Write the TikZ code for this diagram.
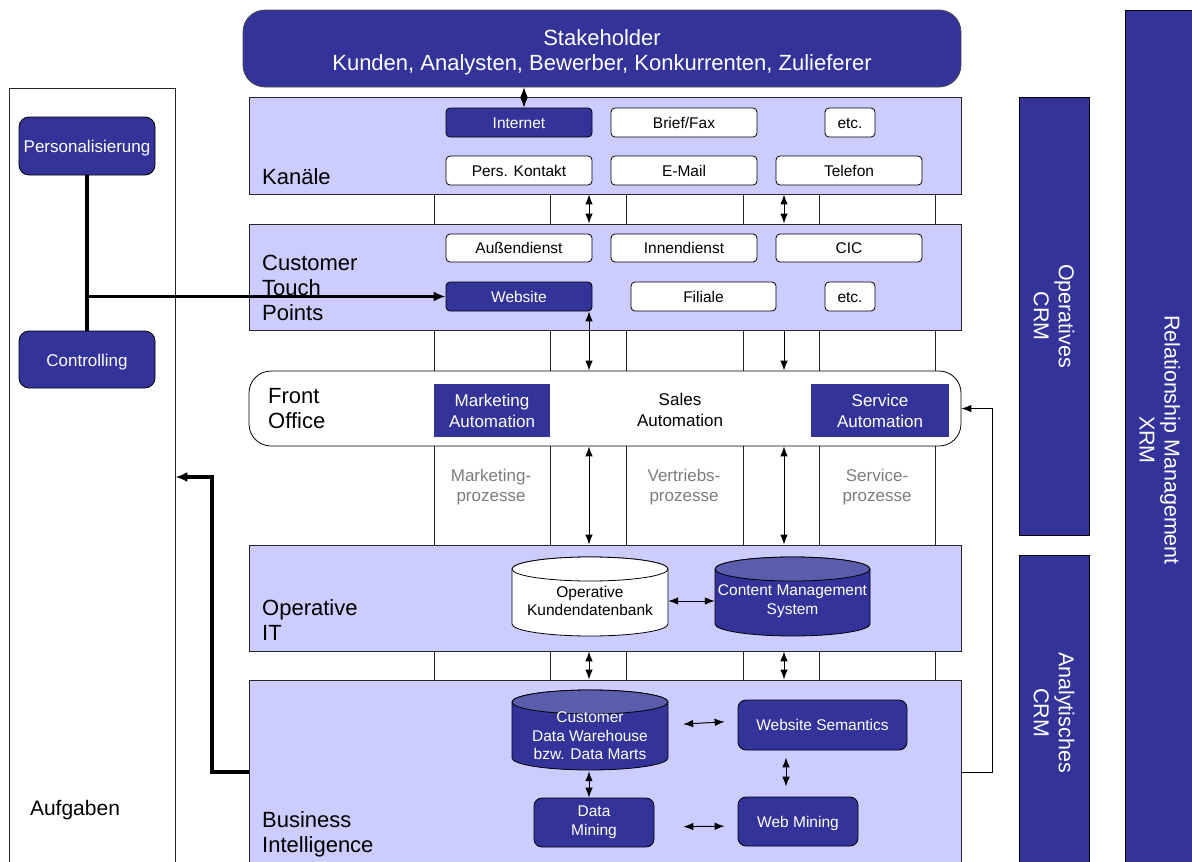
\documentclass[tikz,border=0pt]{standalone}
\usepackage{fontspec}
\setmainfont{Liberation Sans}
\usetikzlibrary{arrows.meta}
\definecolor{dblue}{RGB}{51,51,153}
\definecolor{lblue}{RGB}{204,204,255}
\definecolor{tblue}{RGB}{92,92,172}
\definecolor{pgray}{RGB}{125,125,125}
\newcommand\fs[2]{\fontsize{#1}{#2}\selectfont}
\tikzset{
  band/.style={draw=black!85, fill=lblue, line width=0.8pt, inner sep=0pt},
  wbox/.style={draw=black, fill=white, rounded corners=4pt, line width=0.8pt, inner sep=0pt, font=\fs{15.5}{18}, text height=11.8pt, text depth=0pt},
  dbox/.style={wbox, fill=dblue, text=white},
  sqbox/.style={fill=dblue, text=white, inner sep=0pt, font=\fs{17}{21}, align=center},
  lbl/.style={anchor=west, align=left, font=\fs{22}{25}, inner sep=0pt},
  proc/.style={text=pgray, align=center, font=\fs{17}{20}, inner sep=0pt},
  cyltext/.style={align=center, font=\fs{15.5}{18.5}, inner sep=0pt},
  lbox/.style={draw=black, fill=dblue, text=white, rounded corners=10pt, minimum width=136pt, inner sep=0pt, font=\fs{17}{20}, line width=0.8pt, text height=13pt, text depth=0pt},
  bar/.style={draw=black, fill=dblue, text=white, rotate=-90, align=center, font=\fs{21.5}{25}, line width=0.6pt, inner sep=0pt},
  arr/.style={{Latex[length=10pt,width=7.5pt]}-{Latex[length=10pt,width=7.5pt]}, line width=1pt},
  sarr/.style={-{Latex[length=10pt,width=7.5pt]}, line width=1pt},
  thk/.style={line width=3.2pt},
  thkarr/.style={line width=3.2pt, -{Latex[length=12pt,width=10pt]}},
  grid/.style={line width=0.8pt, draw=black!85},
}
\begin{document}
\begin{tikzpicture}[x=1pt,y=-1pt]
\clip (0,0) rectangle (1192,862);
\fill[white] (0,0) rectangle (1192,862);

% helper coordinates
\coordinate (c524) at (524,0);
\coordinate (c589) at (589,0);
\coordinate (c784) at (784,0);
\coordinate (c786) at (786,0);
\coordinate (c477) at (0,477);
\coordinate (c772) at (0,772);
\coordinate (bl) at (212,772);
\coordinate (br) at (992,772);

% vertical grid lines
\foreach \gx in {434,550,626,743,819,935}
  \draw[grid] (\gx,194) -- (\gx,680);

% left panel
\node[draw=black!85, line width=0.8pt, minimum width=166pt, minimum height=782pt, inner sep=0pt] (panel) at (92,479) {};
\node[font=\fs{21}{25}, inner sep=0pt] (aufg) at (75,810) {Aufgaben};
\node[lbox, minimum height=58pt] (pers) at (87,146) {Personalisierung};
\node[lbox, minimum height=57pt] (ctrl) at (87,359.5) {Controlling};

% Stakeholder
\draw[draw=black!70, fill=dblue, rounded corners=22pt, line width=0.8pt] (243,10) rectangle (961,87);
\node[text=white, minimum width=718pt, minimum height=69pt, inner sep=0pt, align=center, font=\fs{22}{25}] (stake) at (602,52.5) {Stakeholder\\Kunden, Analysten, Bewerber, Konkurrenten, Zulieferer};

% Kanaele band
\node[band, minimum width=712pt, minimum height=97pt] (kan) at (605,145.5) {};
\node[lbl] (kanl) at (262,177) {Kanäle};
\node[dbox, minimum width=146pt, minimum height=29pt] (internet) at (519,122.5) {Internet};
\node[wbox, minimum width=146pt, minimum height=29pt] (brief) at (684,122.5) {Brief/Fax};
\node[wbox, minimum width=50pt, minimum height=29pt] (etca) at (850,122.5) {etc.};
\node[wbox, minimum width=146pt, minimum height=29pt] (pkont) at (519,170.5) {Pers. Kontakt};
\node[wbox, minimum width=146pt, minimum height=29pt] (email) at (684,170.5) {E-Mail};
\node[wbox, minimum width=146pt, minimum height=29pt] (tel) at (849,170.5) {Telefon};

% Customer Touch Points band
\node[band, minimum width=712pt, minimum height=106pt] (ctp) at (605,277) {};
\node[lbl] (ctpl) at (262,288) {Customer\\Touch\\Points};
\node[wbox, minimum width=146pt, minimum height=28pt] (aussen) at (519,248) {Außendienst};
\node[wbox, minimum width=146pt, minimum height=28pt] (innen) at (684,248) {Innendienst};
\node[wbox, minimum width=146pt, minimum height=28pt] (cic) at (849,248) {CIC};
\node[dbox, minimum width=146pt, minimum height=29pt] (website) at (519,296.5) {Website};
\node[wbox, minimum width=145pt, minimum height=29pt] (filiale) at (703.5,296.5) {Filiale};
\node[wbox, minimum width=50pt, minimum height=29pt] (etcb) at (850,296.5) {etc.};

% Front Office
\node[draw=black, fill=white, rounded corners=22pt, minimum width=712pt, minimum height=75pt, inner sep=0pt, line width=0.8pt] (fo) at (605,408.5) {};
\node[lbl] (fol) at (268,409) {Front\\Office};
\node[sqbox, minimum width=116pt, minimum height=53pt] (mkta) at (492,410.5) {Marketing\\Automation};
\node[align=center, font=\fs{17}{21}, inner sep=0pt] (salesa) at (680,410) {Sales\\Automation};
\node[sqbox, minimum width=138pt, minimum height=53pt] (srva) at (880,410.5) {Service\\Automation};

% process labels
\node[proc] (p1) at (491,487) {Marketing-\\prozesse};
\node[proc] (p2) at (684,487) {Vertriebs-\\prozesse};
\node[proc] (p3) at (877,487) {Service-\\prozesse};

% Operative IT band
\node[band, minimum width=712pt, minimum height=106pt] (opit) at (605,598) {};
\node[lbl] (opitl) at (262,620.5) {Operative\\IT};
% cylinder: Operative Kundendatenbank
\draw[fill=white, line width=0.8pt] (512,569) -- (512,624) arc[start angle=180, end angle=360, x radius=78pt, y radius=12pt] -- (668,569) arc[start angle=0, end angle=180, x radius=78pt, y radius=12pt] -- cycle;
\draw[fill=white, line width=0.8pt] (590,569) ellipse [x radius=78pt, y radius=12pt];
\node[cyltext, minimum width=156pt, minimum height=70pt] (okdb) at (590,601) {Operative\\Kundendatenbank};
% cylinder: CMS
\draw[fill=dblue, line width=0.8pt] (715,569) -- (715,624) arc[start angle=180, end angle=360, x radius=77.5pt, y radius=12pt] -- (870,569) arc[start angle=0, end angle=180, x radius=77.5pt, y radius=12pt] -- cycle;
\draw[fill=tblue, line width=0.8pt] (792.5,569) ellipse [x radius=77.5pt, y radius=12pt];
\node[cyltext, text=white, minimum width=155pt, minimum height=70pt] (cms) at (792.5,601) {Content Management\\System};

% Business Intelligence band
\node[band, minimum width=712pt, minimum height=190pt] (bi) at (605,775) {};
\node[lbl] (bil) at (262,834) {Business\\Intelligence};
\draw[fill=dblue, line width=0.8pt] (512,702) -- (512,758) arc[start angle=180, end angle=360, x radius=78pt, y radius=12pt] -- (668,702) arc[start angle=0, end angle=180, x radius=78pt, y radius=12pt] -- cycle;
\draw[fill=tblue, line width=0.8pt] (590,702) ellipse [x radius=78pt, y radius=12pt];
\node[cyltext, text=white, minimum width=156pt, minimum height=70pt] (cdw) at (590,736) {Customer\\Data Warehouse\\bzw. Data Marts};
\node[dbox, rounded corners=8pt, minimum width=169pt, minimum height=50pt] (ws) at (822.5,725) {Website Semantics};
\node[draw=black, fill=dblue, text=white, rounded corners=8pt, line width=0.8pt, inner sep=0pt, minimum width=120pt, minimum height=49pt, align=center, font=\fs{15.5}{19}] (dm) at (594,822.5) {Data\\Mining};
\node[dbox, rounded corners=8pt, minimum width=120pt, minimum height=49pt] (wm) at (798,821.5) {Web Mining};

% right bars
\node[bar, minimum width=438pt, minimum height=70pt] (opcrm) at (1054,316) {Operatives\\CRM};
\node[bar, minimum width=315pt, minimum height=70pt] (ancrm) at (1054,712.5) {Analytisches\\CRM};
\node[bar, minimum width=860pt, minimum height=70pt] (xrm) at (1160,440) {Relationship Management\\XRM};

% connectors
\draw[arr] (stake.south -| c524) -- (internet.north -| c524);
\draw[arr] (kan.south -| c589) -- (ctp.north -| c589);
\draw[arr] (kan.south -| c784) -- (ctp.north -| c784);
\draw[arr] (website.south -| c589) -- (fo.north -| c589);
\draw[sarr] (ctp.south -| c784) -- (fo.north -| c784);
\draw[arr] (fo.south -| c589) -- (opit.north -| c589);
\draw[arr] (fo.south -| c784) -- (opit.north -| c784);
\draw[arr] (opit.south -| c589) -- (bi.north -| c589);
\draw[arr] (opit.south -| c784) -- (bi.north -| c784);
\draw[arr] (okdb.east) -- (cms.west);
\draw[arr, shorten <=15pt, shorten >=13pt] (cdw.east |- ws.west) -- ([yshift=4pt]ws.west);
\draw[arr] (cdw.south -| c589) -- (dm.north -| c589);
\draw[arr, shorten <=7pt, shorten >=10pt] (ws.south -| c786) -- (wm.north -| c786);
\draw[arr, shorten <=29pt, shorten >=13pt] ([yshift=-4.5pt]dm.east) -- ([yshift=-4.5pt]wm.west);

% feedback lines
\draw[thk] (pers.south) -- (ctrl.north);
\coordinate (jn) at (pers.south |- website.west);
\draw[thkarr] (jn) -- (website.west);
\draw[thkarr] (bi.west |- c772) -- (bl) |- (panel.east |- c477);
\draw[sarr] (bi.east |- c772) -- (br) |- (fo.east);
\end{tikzpicture}
\end{document}
